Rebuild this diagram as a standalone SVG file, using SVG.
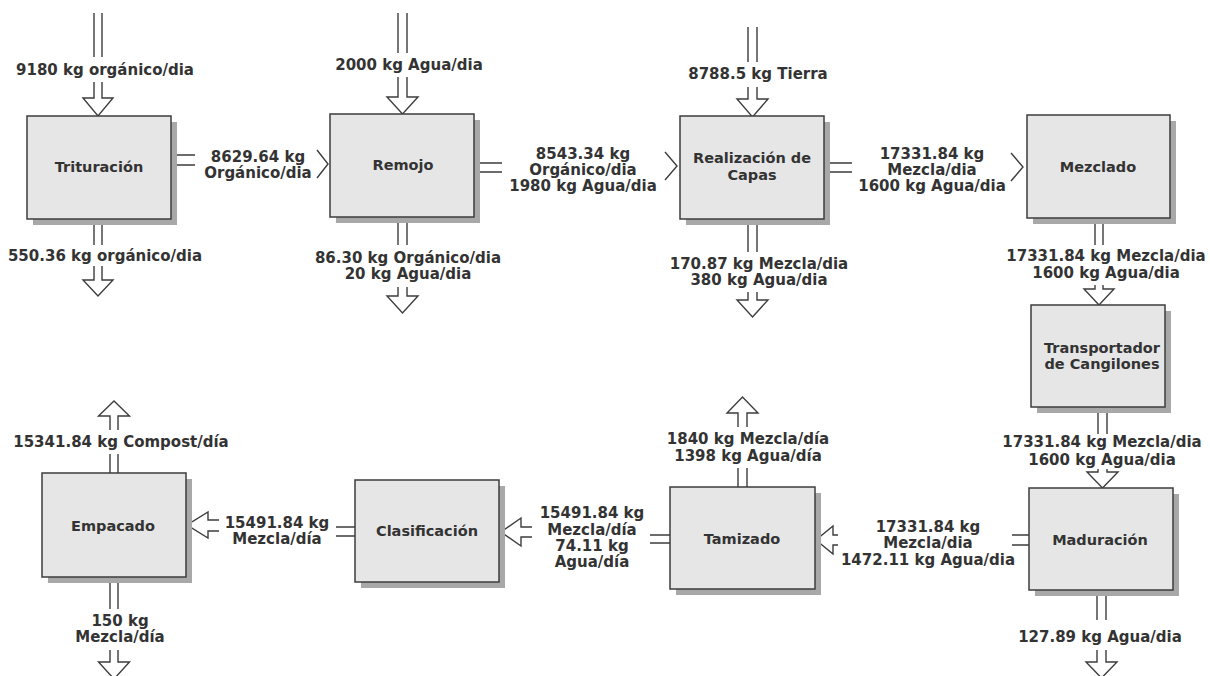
<svg xmlns="http://www.w3.org/2000/svg" width="1210" height="676" viewBox="0 0 1210 676">
<style>
.bg{fill:#ffffff}
.sh{fill:#a8a8a8}
.bx{fill:#e6e6e6;stroke:#3d3d3d;stroke-width:1.5}
.ln{fill:none;stroke:#3d3d3d;stroke-width:1.4;stroke-linejoin:miter}
text{font-family:"DejaVu Sans","Verdana",sans-serif;font-weight:bold;font-size:15px;fill:#333333;text-anchor:middle}
.nl{font-size:14.5px}
</style>
<rect class="bg" x="0" y="0" width="1210" height="676"/>
<g id="connectors">
  <path class="ln" d="M94 13V57M102 13V57M94 82V98H83L98 116L113 98H102V82"/>
  <text x="105" y="75">9180 kg orgánico/dia</text>
  <path class="ln" d="M94 219V245M102 219V245M94 266V280H83L98 296L113 280H102V266"/>
  <text x="105" y="261">550.36 kg orgánico/dia</text>
  <path class="ln" d="M171 155H195M171 165H195M317 150L328 164L317 178"/>
  <text x="258" y="162">8629.64 kg</text>
  <text x="258" y="178">Orgánico/dia</text>
  <path class="ln" d="M398 13V53M407 13V53M398 77V97H387L402.5 114L418 97H407V77"/>
  <text x="409" y="70">2000 kg Agua/dia</text>
  <path class="ln" d="M398 217V245M407 217V245M398 287V296H387L402.5 313L418 296H407V287"/>
  <text x="408" y="263">86.30 kg Orgánico/dia</text>
  <text x="408" y="279">20 kg Agua/dia</text>
  <path class="ln" d="M474 163H502M474 172H502M665 152L677 166L665 180"/>
  <text x="583" y="159">8543.34 kg</text>
  <text x="583" y="175">Orgánico/dia</text>
  <text x="583" y="191">1980 kg Agua/dia</text>
  <path class="ln" d="M748 27V62M757 27V62M748 87V99H737L752.5 117L768 99H757V87"/>
  <text x="758" y="79">8788.5 kg Tierra</text>
  <path class="ln" d="M748 219V252M757 219V252M748 292V300H737L752.5 317L768 300H757V292"/>
  <text x="759" y="269">170.87 kg Mezcla/dia</text>
  <text x="759" y="285">380 kg Agua/dia</text>
  <path class="ln" d="M824 163H852M824 172H852M1011 153L1023 167L1011 181"/>
  <text x="932" y="159">17331.84 kg</text>
  <text x="932" y="175">Mezcla/dia</text>
  <text x="932" y="191">1600 kg Agua/dia</text>
  <path class="ln" d="M1095 218V245M1103 218V245M1095 285V289H1084L1099 305L1114 289H1103V285"/>
  <text x="1106" y="261">17331.84 kg Mezcla/dia</text>
  <text x="1106" y="278">1600 kg Agua/dia</text>
  <path class="ln" d="M1098 407V434M1107 407V434M1098 469V472H1087L1102.5 488L1118 472H1107V469"/>
  <text x="1102" y="447">17331.84 kg Mezcla/dia</text>
  <text x="1102" y="465">1600 kg Agua/dia</text>
  <path class="ln" d="M1097 590V620M1106 590V620M1097 650V662H1086L1101.5 678L1117 662H1106V650"/>
  <text x="1100" y="642">127.89 kg Agua/dia</text>
  <path class="ln" d="M1012 535H1029M1012 545H1029M838 535H833V526L816 540L833 554V545H838"/>
  <text x="928" y="532">17331.84 kg</text>
  <text x="928" y="548">Mezcla/dia</text>
  <text x="928" y="565">1472.11 kg Agua/dia</text>
  <path class="ln" d="M738 487V468M747 487V468M738 427V413H727L742.5 397L758 413H747V427"/>
  <text x="748" y="444">1840 kg Mezcla/día</text>
  <text x="748" y="461">1398 kg Agua/día</text>
  <path class="ln" d="M650 535H670M650 543H670M532 527H521V518L501 532L521 546V537H532"/>
  <text x="592" y="518">15491.84 kg</text>
  <text x="592" y="535">Mezcla/día</text>
  <text x="592" y="551">74.11 kg</text>
  <text x="592" y="567">Agua/día</text>
  <path class="ln" d="M336 527H355M336 536H355M219 520H208V512L187 525L208 538V531H219"/>
  <text x="277" y="528">15491.84 kg</text>
  <text x="277" y="544">Mezcla/día</text>
  <path class="ln" d="M110 473V454M118 473V454M110 430V416H98.5L114 401L129.5 416H118V430"/>
  <text x="121" y="447">15341.84 kg Compost/día</text>
  <path class="ln" d="M110 577V609M118 577V609M110 650V662H98.5L114 679L129.5 662H118V650"/>
  <text x="120" y="626">150 kg</text>
  <text x="120" y="642">Mezcla/día</text>
</g>
<g id="trituracion">
  <rect class="sh" x="33" y="122" width="144" height="103"/>
  <rect class="bx" x="27" y="116" width="144" height="103"/>
  <text class="nl" x="99" y="172">Trituración</text>
</g>
<g id="remojo">
  <rect class="sh" x="336" y="120" width="144" height="103"/>
  <rect class="bx" x="330" y="114" width="144" height="103"/>
  <text class="nl" x="403" y="170">Remojo</text>
</g>
<g id="realizacion">
  <rect class="sh" x="686" y="122" width="144" height="103"/>
  <rect class="bx" x="680" y="116" width="144" height="103"/>
  <text class="nl" x="752" y="163">Realización de</text>
  <text class="nl" x="752" y="180">Capas</text>
</g>
<g id="mezclado">
  <rect class="sh" x="1033" y="121" width="143" height="103"/>
  <rect class="bx" x="1027" y="115" width="143" height="103"/>
  <text class="nl" x="1098" y="172">Mezclado</text>
</g>
<g id="transportador">
  <rect class="sh" x="1037" y="311" width="134" height="102"/>
  <rect class="bx" x="1031" y="305" width="134" height="102"/>
  <text class="nl" x="1102" y="353">Transportador</text>
  <text class="nl" x="1102" y="369">de Cangilones</text>
</g>
<g id="maduracion">
  <rect class="sh" x="1035" y="494" width="144" height="102"/>
  <rect class="bx" x="1029" y="488" width="144" height="102"/>
  <text class="nl" x="1100" y="545">Maduración</text>
</g>
<g id="tamizado">
  <rect class="sh" x="676" y="493" width="145" height="102"/>
  <rect class="bx" x="670" y="487" width="145" height="102"/>
  <text class="nl" x="742" y="544">Tamizado</text>
</g>
<g id="clasificacion">
  <rect class="sh" x="361" y="486" width="144" height="102"/>
  <rect class="bx" x="355" y="480" width="144" height="102"/>
  <text class="nl" x="427" y="536">Clasificación</text>
</g>
<g id="empacado">
  <rect class="sh" x="48" y="479" width="144" height="104"/>
  <rect class="bx" x="42" y="473" width="144" height="104"/>
  <text class="nl" x="113" y="531">Empacado</text>
</g>
</svg>
